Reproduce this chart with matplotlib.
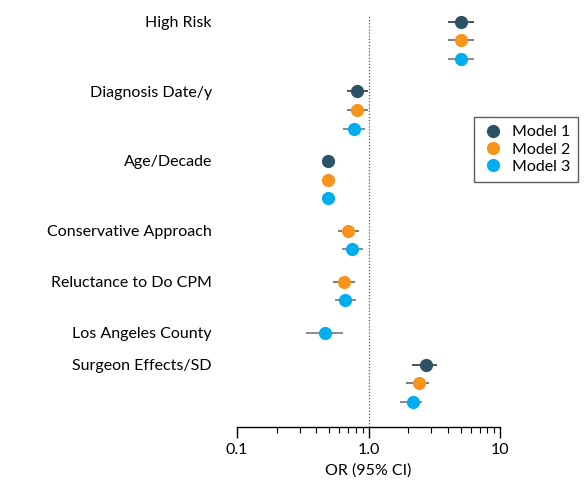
import numpy as np
import matplotlib.pyplot as plt

# ------ Données ------

variables = ["High Risk", "Diagnosis Date/y", "Age/Decade", "Conservative Approach",
             "Reluctance to Do CPM", "Los Angeles County", "Surgeon Effects/SD"]
models = ["Model 1", "Model 2", "Model 3"]
colors = ["#2c5364", "#f7941d", "#00aeef"]
ci_colors = ["#333333", "#666666", "#777777"]

# OR et IC 95 % par modèle (None = variable absente du modèle)
or_m1 = [5.0, 0.82, 0.49, None, None, None, 2.73]
lo_m1 = [4.0, 0.68, 0.47, None, None, None, 2.12]
hi_m1 = [6.3, 0.99, 0.51, None, None, None, 3.33]

or_m2 = [5.0, 0.815, 0.49, 0.70, 0.65, None, 2.40]
lo_m2 = [4.0, 0.68, 0.44, 0.585, 0.535, None, 1.91]
hi_m2 = [6.3, 0.99, 0.545, 0.85, 0.79, None, 2.87]

or_m3 = [5.0, 0.77, 0.49, 0.755, 0.665, 0.465, 2.16]
lo_m3 = [4.0, 0.645, 0.47, 0.63, 0.555, 0.336, 1.72]
hi_m3 = [6.3, 0.94, 0.51, 0.905, 0.80, 0.645, 2.56]

series = [(or_m1, lo_m1, hi_m1), (or_m2, lo_m2, hi_m2), (or_m3, lo_m3, hi_m3)]

# ------ Positions verticales ------

GAP = 0.75
pos = {}
group_start = []
y = 0.0
for i in range(len(variables)):
    present = [m for m in range(3) if series[m][0][i] is not None]
    group_start.append(y)
    for m in present:
        pos[(m, i)] = y
        y += 1
    y += GAP
y_last = y - GAP - 1

# ------ Graphique ------

plt.rcParams['font.family'] = ['Lato', 'DejaVu Sans']
FS = 11.5

fig = plt.figure(figsize=(5.85, 4.84), dpi=100)
ax = fig.add_axes([0.405, 0.118, 0.45, 0.849])

ax.axvline(1.0, color="#555555", linestyle=(0, (1, 1.5)), linewidth=0.9, zorder=1)

for m, (est, lo, hi) in enumerate(series):
    ys, xs, xerr_lo, xerr_hi = [], [], [], []
    for i in range(len(variables)):
        if est[i] is None:
            continue
        ys.append(pos[(m, i)])
        xs.append(est[i])
        xerr_lo.append(est[i] - lo[i])
        xerr_hi.append(hi[i] - est[i])
    ax.errorbar(xs, ys, xerr=[xerr_lo, xerr_hi], fmt="none", ecolor=ci_colors[m],
                elinewidth=1.2, capsize=0, zorder=2)
    ax.plot(xs, ys, "o", color=colors[m], markersize=9.5, markeredgewidth=0,
            label=models[m], zorder=3)

ax.set_xscale("log")
ax.set_xlim(0.1, 10)
ax.set_ylim(y_last + 1.34, -0.32)

ax.set_xticks([0.1, 1.0, 10])
ax.set_xticklabels(["0.1", "1.0", "10"], fontsize=FS)
ax.tick_params(axis="x", which="major", length=8, width=1, direction="out")
ax.tick_params(axis="x", which="minor", length=4, width=0.8, direction="out")
ax.set_xlabel("OR (95% CI)", fontsize=FS, labelpad=5)

ax.set_yticks(group_start)
ax.set_yticklabels(variables, fontsize=FS)
ax.tick_params(axis="y", length=0, pad=18)

for s in ["left", "right", "top"]:
    ax.spines[s].set_visible(False)
ax.spines["bottom"].set_linewidth(1)

fig.legend(loc="upper left", bbox_to_anchor=(474 / 585, 1 - 117 / 484), borderaxespad=0,
           fontsize=FS, frameon=True, fancybox=False, edgecolor="#333333",
           handletextpad=0.45, borderpad=0.5, labelspacing=0.2, handlelength=1.4)

plt.savefig("out.png", dpi=100)
